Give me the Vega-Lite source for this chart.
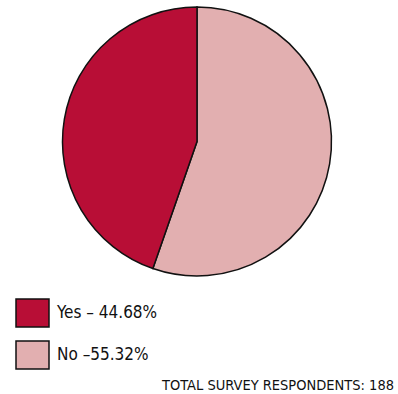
{
  "$schema": "https://vega.github.io/schema/vega-lite/v6.json",
  "width": 394,
  "height": 283,
  "padding": 0,
  "autosize": {"type": "pad"},
  "background": "white",
  "data": {
    "values": [
      {"answer": "No –55.32%", "share": 55.32, "ord": 1},
      {"answer": "Yes – 44.68%", "share": 44.68, "ord": 2}
    ]
  },
  "title": {
    "text": "TOTAL SURVEY RESPONDENTS: 188",
    "orient": "bottom",
    "anchor": "end",
    "font": "DejaVu Sans Condensed",
    "fontSize": 14.5,
    "fontWeight": "normal",
    "color": "#111111",
    "offset": 6
  },
  "mark": {"type": "arc", "radius": 134.5, "stroke": "#111111", "strokeWidth": 1.5},
  "encoding": {
    "theta": {"field": "share", "type": "quantitative", "stack": true},
    "order": {"field": "ord", "type": "quantitative"},
    "color": {
      "field": "answer",
      "type": "nominal",
      "scale": {"domain": ["Yes – 44.68%", "No –55.32%"], "range": ["#B80E36", "#E2AFB0"]},
      "legend": {
        "title": null,
        "orient": "none",
        "legendX": 15,
        "legendY": 295.5,
        "padding": 0,
        "symbolType": "M-1,-0.85L1,-0.85L1,0.85L-1,0.85Z",
        "symbolSize": 1089,
        "symbolStrokeColor": "#111111",
        "symbolStrokeWidth": 1.5,
        "symbolOpacity": 1,
        "rowPadding": 7,
        "labelOffset": 7,
        "labelFont": "DejaVu Sans Condensed",
        "labelFontSize": 17,
        "labelColor": "#111111",
        "labelLimit": 300
      }
    }
  },
  "config": {"view": {"stroke": null}}
}
